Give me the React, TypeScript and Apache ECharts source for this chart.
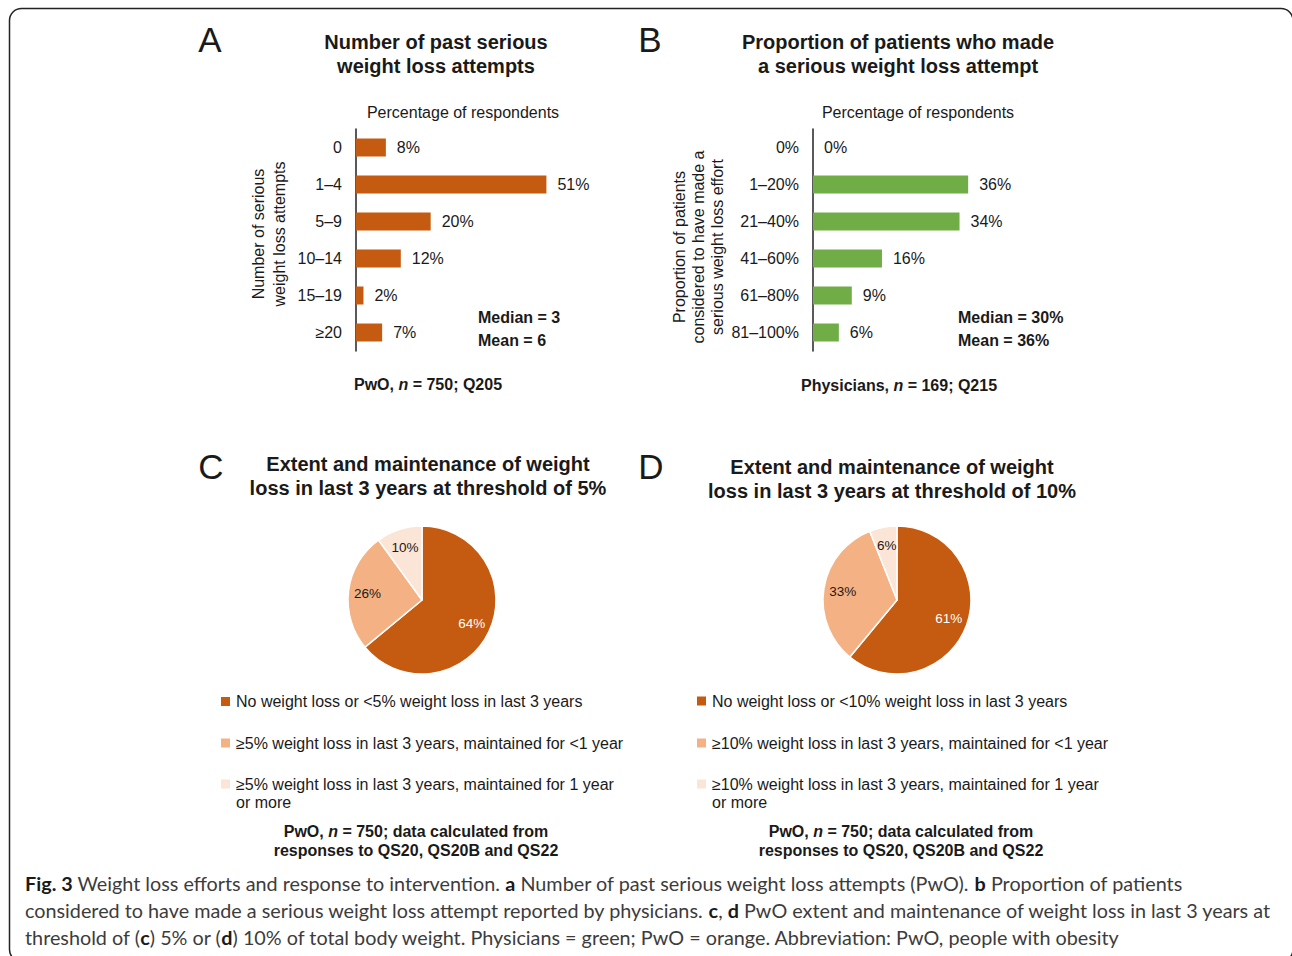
import React, { useEffect, useRef } from "react";
import * as echarts from "echarts";

// ---------- data ----------
const attemptsCategories = ["0", "1–4", "5–9", "10–14", "15–19", "≥20"];
const attemptsValues = [8, 51, 20, 12, 2, 7];

const proportionCategories = ["0%", "1–20%", "21–40%", "41–60%", "61–80%", "81–100%"];
const proportionValues = [0, 36, 34, 16, 9, 6];

const pieCNames = [
  "No weight loss or <5% weight loss in last 3 years",
  "≥5% weight loss in last 3 years, maintained for <1 year",
  "≥5% weight loss in last 3 years, maintained for 1 year or more",
];
const pieCValues = [64, 26, 10];

const pieDNames = [
  "No weight loss or <10% weight loss in last 3 years",
  "≥10% weight loss in last 3 years, maintained for <1 year",
  "≥10% weight loss in last 3 years, maintained for 1 year or more",
];
const pieDValues = [61, 33, 6];

// ---------- styles ----------
const ORANGE = "#C55A11";
const PEACH = "#F4B183";
const PALE = "#FBE5D6";
const GREEN = "#70AD47";
const sliceColors = [ORANGE, PEACH, PALE];
const sliceLabelColors = ["#ffffff", "#1a1a1a", "#1a1a1a"];
const TXT = "#1a1a1a";
const FONT = "'Liberation Sans', Arial, Helvetica, sans-serif";
const CAPFONT = "Lato, 'Open Sans', sans-serif";
const CAPCOL = "#3c3c3c";
const FS = 16;

function text(x: number, y: number, t: string, extra: any = {}) {
  return {
    type: "text",
    x,
    y,
    silent: true,
    style: {
      text: t,
      fontFamily: FONT,
      fontSize: FS,
      fill: TXT,
      align: "left",
      verticalAlign: "middle",
      textAlign: "left",
      textVerticalAlign: "middle",
      ...extra,
    },
  };
}

function ctext(x: number, y: number, t: string, extra: any = {}) {
  return text(x, y, t, { align: "center", textAlign: "center", ...extra });
}

function legendFor(names: string[], left: number, centers: number[]) {
  return names.map((n, i) => {
    const last = i === names.length - 1;
    return {
      data: [n],
      left,
      top: last ? centers[i] - 27 : centers[i] - 9,
      orient: "vertical",
      padding: 0,
      itemGap: 0,
      itemWidth: 11,
      itemHeight: 11,
      icon: "rect",
      selectedMode: false,
      formatter: (name: string) =>
        name.indexOf(" or more") >= 0 ? "\n" + name.replace(" or more", "\nor more") : name,
      textStyle: {
        fontFamily: FONT,
        fontSize: FS,
        color: TXT,
        lineHeight: 18,
      },
    };
  });
}

function pieSeries(names: string[], values: number[], cx: number) {
  const data = names.map((n, i) => ({
    name: n,
    value: values[i],
    itemStyle: { color: sliceColors[i] },
  }));
  const labelData = names.map((n, i) => ({
    name: n,
    value: values[i],
    label: { color: sliceLabelColors[i] },
  }));
  return [
    {
      type: "pie",
      center: [cx, 600],
      radius: [0, 74],
      startAngle: 90,
      clockwise: true,
      silent: true,
      label: { show: false },
      labelLine: { show: false },
      itemStyle: { borderColor: "#ffffff", borderWidth: 1.5 },
      data,
    },
    {
      type: "pie",
      center: [cx, 600],
      radius: [30, 74],
      startAngle: 90,
      clockwise: true,
      silent: true,
      avoidLabelOverlap: false,
      itemStyle: { color: "rgba(0,0,0,0)", borderWidth: 0 },
      label: {
        show: true,
        position: "inside",
        formatter: "{c}%",
        fontFamily: FONT,
        fontSize: 13.5,
      },
      labelLine: { show: false },
      data: labelData,
    },
  ];
}

function barAxis(categories: string[], gridIndex: number, name: string, nameGap: number, lineHeight: number, pad: number[]) {
  return {
    type: "category",
    gridIndex,
    data: categories,
    inverse: true,
    axisLine: { show: true, lineStyle: { color: "#222", width: 1.5 } },
    axisTick: { show: false },
    axisLabel: { margin: 14, fontFamily: FONT, fontSize: FS, color: TXT },
    name,
    nameLocation: "middle",
    nameRotate: 90,
    nameGap,
    nameTextStyle: { fontFamily: FONT, fontSize: FS, color: TXT, lineHeight, padding: pad },
  };
}

function barSeries(values: number[], color: string, idx: number) {
  return {
    type: "bar",
    xAxisIndex: idx,
    yAxisIndex: idx,
    data: values,
    barWidth: 18,
    silent: true,
    itemStyle: { color },
    label: {
      show: true,
      position: "right",
      distance: 11,
      formatter: "{c}%",
      fontFamily: FONT,
      fontSize: FS,
      color: TXT,
    },
  };
}

const foot = { fontWeight: "bold", rich: { i: { fontStyle: "italic", fontWeight: "bold", fontFamily: FONT, fontSize: FS } } };
const capRich = { b: { fontWeight: "bold", fontFamily: CAPFONT, fontSize: 19.8, fill: "#1a1a1a" } };
const capStyle = { fontFamily: CAPFONT, fontSize: 19.8, fill: CAPCOL, rich: capRich };
const titleStyle = { fontSize: 20, fontWeight: "bold", lineHeight: 24 };

export default function App() {
  const ref = useRef<HTMLDivElement>(null);
  useEffect(() => {
    if (!ref.current) return;
    const chart = echarts.init(ref.current, undefined, { renderer: "svg" });
    const option: any = {
      animation: false,
      backgroundColor: "#ffffff",
      grid: [
        { left: 356, top: 129, width: 224, height: 222, containLabel: false },
        { left: 813, top: 129, width: 258.6, height: 222, containLabel: false },
      ],
      xAxis: [
        { type: "value", gridIndex: 0, min: 0, max: 60, show: false },
        { type: "value", gridIndex: 1, min: 0, max: 60, show: false },
      ],
      yAxis: [
        barAxis(attemptsCategories, 0, "Number of serious\nweight loss attempts", 66, 21, [0, 0, 0, 12]),
        barAxis(
          proportionCategories,
          1,
          "Proportion of patients\nconsidered to have made a\nserious weight loss effort",
          84,
          19,
          [0, 14, 0, 0]
        ),
      ],
      legend: [...legendFor(pieCNames, 219, [701.5, 743, 784]), ...legendFor(pieDNames, 695, [701, 743, 784])],
      series: [
        barSeries(attemptsValues, ORANGE, 0),
        barSeries(proportionValues, GREEN, 1),
        ...pieSeries(pieCNames, pieCValues, 422),
        ...pieSeries(pieDNames, pieDValues, 897),
      ],
      graphic: [
        {
          type: "rect",
          silent: true,
          z: -1,
          shape: { x: 9.5, y: 8.5, width: 1283.5, height: 953, r: 12 },
          style: { fill: "none", stroke: "#222", lineWidth: 1.5 },
        },
        // panel letters
        ctext(210, 39, "A", { fontSize: 35 }),
        ctext(650, 39, "B", { fontSize: 35 }),
        ctext(211, 466, "C", { fontSize: 35 }),
        ctext(651, 466, "D", { fontSize: 35 }),
        // titles
        ctext(436, 54, "Number of past serious\nweight loss attempts", titleStyle),
        ctext(898, 54, "Proportion of patients who made\na serious weight loss attempt", titleStyle),
        ctext(428, 476, "Extent and maintenance of weight\nloss in last 3 years at threshold of 5%", titleStyle),
        ctext(892, 478.5, "Extent and maintenance of weight\nloss in last 3 years at threshold of 10%", titleStyle),
        // axis headings
        ctext(463, 112, "Percentage of respondents"),
        ctext(918, 112, "Percentage of respondents"),
        // median / mean
        text(478, 317, "Median = 3", { fontWeight: "bold" }),
        text(478, 340, "Mean = 6", { fontWeight: "bold" }),
        text(958, 317, "Median = 30%", { fontWeight: "bold" }),
        text(958, 340, "Mean = 36%", { fontWeight: "bold" }),
        // footnotes
        ctext(428, 384, "PwO, {i|n} = 750; Q205", foot),
        ctext(899, 385, "Physicians, {i|n} = 169; Q215", foot),
        ctext(416, 840.5, "PwO, {i|n} = 750; data calculated from\nresponses to QS20, QS20B and QS22", { ...foot, lineHeight: 19 }),
        ctext(901, 840.5, "PwO, {i|n} = 750; data calculated from\nresponses to QS20, QS20B and QS22", { ...foot, lineHeight: 19 }),
        // caption
        text(
          25,
          883,
          "{b|Fig. 3} Weight loss efforts and response to intervention. {b|a} Number of past serious weight loss attempts (PwO). {b|b} Proportion of patients",
          capStyle
        ),
        text(
          25,
          910,
          "considered to have made a serious weight loss attempt reported by physicians. {b|c}, {b|d} PwO extent and maintenance of weight loss in last 3 years at",
          capStyle
        ),
        text(
          25,
          937,
          "threshold of ({b|c}) 5% or ({b|d}) 10% of total body weight. Physicians = green; PwO = orange. Abbreviation: PwO, people with obesity",
          capStyle
        ),
      ],
    };
    chart.setOption(option);
    return () => chart.dispose();
  }, []);
  return (
    <div
      ref={ref}
      style={{ position: "absolute", left: 0, top: 0, width: 1292, height: 956, background: "#fff" }}
    />
  );
}
